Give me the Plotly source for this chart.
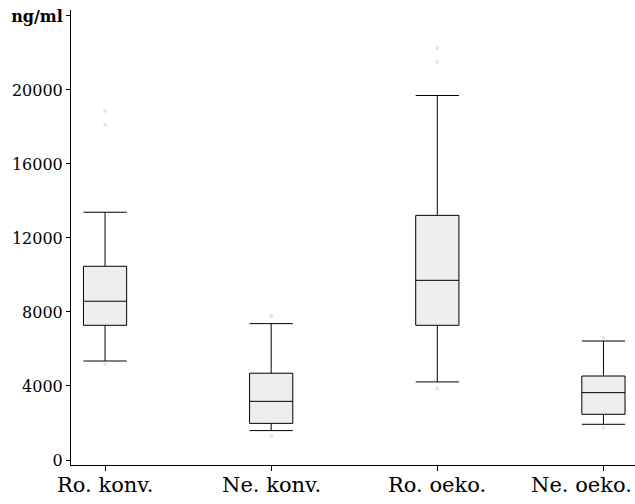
import plotly.graph_objects as go

categories = ["Ro. konv.", "Ne. konv.", "Ro. oeko.", "Ne. oeko."]
lower_fence = [5350, 1590, 4220, 1930]
q1 = [7280, 1980, 7280, 2470]
median = [8580, 3170, 9710, 3640]
q3 = [10470, 4690, 13220, 4540]
upper_fence = [13390, 7370, 19700, 6430]
outliers = [
    [18110, 18860, 5190],
    [7820, 7760, 1300],
    [21510, 22250, 3860],
    [6610, 1730],
]
y_tickvals = [0, 4000, 8000, 12000, 16000, 20000, 24000]
y_ticktext = ["0", "4000", "8000", "12000", "16000", "20000", "<b>ng/ml</b>"]

FONT = "DejaVu Serif"
fig = go.Figure()
for i, cat in enumerate(categories):
    fig.add_trace(go.Box(
        x=[i], q1=[q1[i]], median=[median[i]], q3=[q3[i]],
        lowerfence=[lower_fence[i]], upperfence=[upper_fence[i]],
        width=0.26, whiskerwidth=1,
        fillcolor="#eeeeee", line=dict(color="black", width=1),
        boxpoints=False, showlegend=False, name=cat,
    ))
    fig.add_trace(go.Scatter(
        x=[i] * len(outliers[i]), y=outliers[i], mode="markers",
        marker=dict(color="#e6e6e6", size=4), showlegend=False,
        hoverinfo="y",
    ))

# category labels as annotations so the last one can stay inside the page
for i, cat in enumerate(categories):
    fig.add_annotation(
        x=i, xref="x", y=0, yref="paper", yanchor="top", yshift=-6,
        text=cat, showarrow=False, xanchor="center",
        xshift=(-22 if i == len(categories) - 1 else 0),
        font=dict(family=FONT, size=21, color="black"),
    )

fig.update_layout(
    width=635, height=504,
    margin=dict(l=71, r=0, t=10, b=39),
    plot_bgcolor="white", paper_bgcolor="white",
    font=dict(family=FONT, color="black"),
)
fig.update_xaxes(
    range=[-0.205, 3.19], tickvals=[0, 1, 2, 3], showticklabels=False,
    showline=True, linecolor="black", linewidth=1, showgrid=False,
    zeroline=False, ticks="outside", ticklen=5, tickcolor="black",
    automargin=False,
)
fig.update_yaxes(
    range=[-270, 24320], tickvals=y_tickvals, ticktext=y_ticktext,
    showline=True, linecolor="black", linewidth=1, showgrid=False,
    zeroline=False, ticks="outside", ticklen=4, tickcolor="black",
    tickfont=dict(size=16, family=FONT), automargin=False,
)
fig.write_html(
    "out.html",
    config={"displayModeBar": False},
    post_script="document.body.style.margin='0px';document.body.style.overflow='hidden';",
)
